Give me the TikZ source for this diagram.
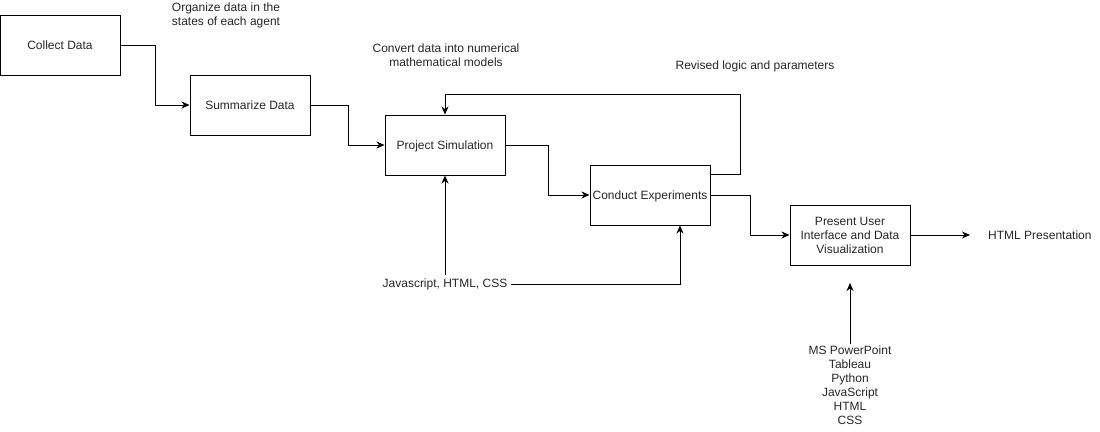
\documentclass[tikz,border=0pt]{standalone}
\usepackage{fontspec}
\setmainfont{Liberation Sans}
\usetikzlibrary{arrows.meta,calc}
\begin{document}
\begin{tikzpicture}[x=1pt,y=-1pt,
  every node/.style={font=\fontsize{12}{14}\selectfont, text=black!85},
  box/.style={draw=black, line width=1pt, minimum width=120pt, minimum height=60pt, inner sep=2pt, align=center},
  onebox/.style={box, text depth=0pt},
  lbl/.style={align=center, inner sep=2pt},
  conn/.style={draw=black, line width=1pt},
  arr/.style={conn, -{Stealth[length=8pt,width=7pt,inset=2.5pt]}}]
\useasboundingbox (0,0) rectangle (1100,431);
\node[onebox] (collect) at (60,45) {Collect Data};
\node[onebox] (summ) at (250,105) {Summarize Data};
\node[onebox] (proj) at (445,145) {Project Simulation};
\node[onebox] (cond) at (650,195) {Conduct Experiments};
\node[box] (pres) at (850,235) {Present User\\Interface and Data\\Visualization};
\node[lbl, anchor=west, inner sep=0pt, text depth=0pt] (html) at (988,235) {HTML Presentation};
\node[lbl] (org) at (226,15) {Organize data in the\\states of each agent};
\node[lbl] (conv) at (446,55) {Convert data into numerical\\mathematical models};
\node[lbl] (rev) at (755,66) {Revised logic and parameters};
\node[lbl, inner sep=3pt] (js) at (445,284) {Javascript, HTML, CSS};
\node[lbl, inner sep=1pt] (ms) at (850,385) {MS PowerPoint\\Tableau\\Python\\JavaScript\\HTML\\CSS};
\coordinate (tip) at (850,283);
\draw[arr] (collect.east) -- ++(35,0) |- (summ.west);
\draw[arr] (summ.east) -- ++(38,0) |- (proj.west);
\draw[arr] (proj.east) -- ++(43,0) |- (cond.west);
\draw[arr] (cond.east) -- ++(40,0) |- (pres.west);
\draw[arr] (pres.east) -- ([xshift=-18pt]html.west);
\draw[arr] ([yshift=-10pt]cond.north east) -- ++(30,0) -- ++(0,-80) -| (proj.north);
\draw[arr] (js.north) -- (proj.south);
\draw[arr] (js.east) -| ([xshift=30pt]cond.south);
\draw[arr] (ms.north) -- (tip);
\end{tikzpicture}
\end{document}
